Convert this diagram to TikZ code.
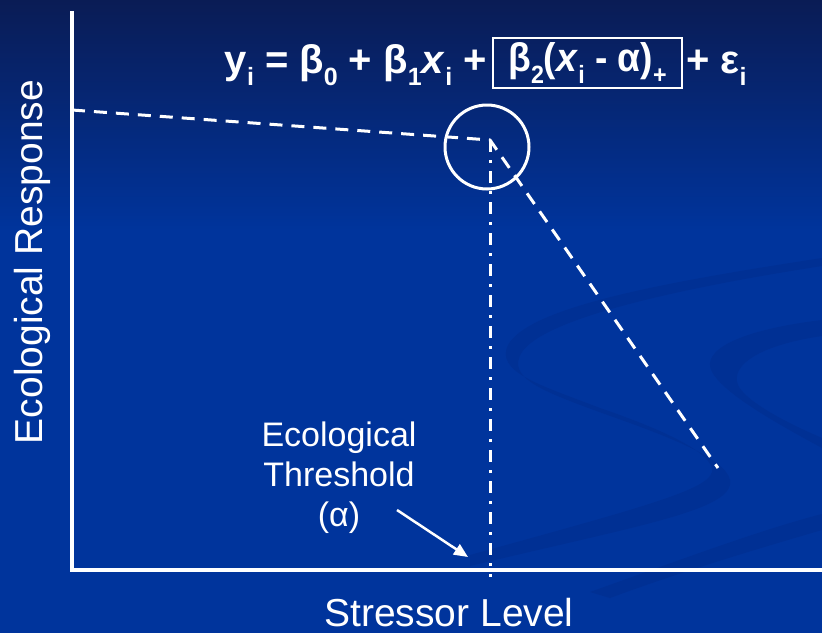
\documentclass[tikz,border=0pt]{standalone}
\usepackage{fontspec}
\setmainfont{Liberation Sans}
\usepackage{tikz}
\usepackage{xcolor}
\usetikzlibrary{arrows.meta}
\definecolor{slideblue}{HTML}{00349C}
\definecolor{slidenavy}{HTML}{0A1C55}
\definecolor{swoosh}{HTML}{002A88}
\newcommand{\lowidx}[1]{\raisebox{-0.3em}{\fontsize{25}{25}\selectfont #1}}
\tikzstyle{axis} = [white, line width=3.5pt]
\tikzstyle{response} = [white, line width=3pt, dash pattern=on 13pt off 9pt]
\tikzstyle{threshold} = [white, line width=3pt, dash pattern=on 12pt off 8pt on 3pt off 8pt]
\tikzstyle{arrow} = [white, line width=2.5pt, -{Triangle[length=14pt,width=12pt]}]
\tikzstyle{axistext} = [text=white, inner sep=0pt, font=\fontsize{39}{39}\selectfont]
\tikzstyle{notetext} = [text=white, inner sep=0pt, align=center, font=\fontsize{34}{40}\selectfont]
\tikzstyle{eqtext} = [text=white, inner sep=0pt, font=\bfseries\fontsize{40}{40}\selectfont]
\tikzstyle{eqboxed} = [eqtext, draw=white, line width=2.5pt, minimum width=189pt, minimum height=50pt]
\tikzstyle{band} = [swoosh, opacity=0.4]

\begin{document}
\begin{tikzpicture}[x=1pt, y=-1pt]
	\useasboundingbox (0,0) rectangle (822,633);
	\fill[slideblue] (0,0) rectangle (822,633);
	\shade[top color=slidenavy, bottom color=slideblue] (0,0) rectangle (822,230);
	
	\fill[band] (822,258) .. controls (680,280) and (530,305) .. (508,345) .. controls (495,372) and (540,385) .. (600,408) .. controls (670,432) and (715,455) .. (712,472) .. controls (708,490) and (640,508) .. (470,555)
		-- (470,566) .. controls (640,525) and (735,510) .. (730,480) .. controls (725,458) and (670,437) .. (602,413) .. controls (545,392) and (505,378) .. (522,352) .. controls (545,318) and (680,288) .. (822,266) -- cycle;
	\fill[band] (822,320) .. controls (740,330) and (700,350) .. (712,372) .. controls (725,395) and (780,425) .. (822,448)
		-- (822,438) .. controls (780,420) and (745,400) .. (738,385) .. controls (730,365) and (760,345) .. (822,336) -- cycle;
	\fill[band] (590,592) .. controls (680,560) and (760,530) .. (822,514) -- (822,530) .. controls (760,548) and (680,572) .. (610,598) -- cycle;
	
	\coordinate(origin) at (72,570);
	\coordinate(ytop) at (72,11);
	\coordinate(xend) at (822,570);
	\coordinate(r0) at (72,110);
	\coordinate(knee) at (490,140);
	\coordinate(r1) at (718,468);
	\coordinate(alpha) at (490,577);
	\coordinate(arrtail) at (397,510);
	\coordinate(arrtip) at (468,557);
	
	\node(eqleft) at (487,73) [eqtext, anchor=base east] {y\lowidx{i} = β\lowidx{0} + β\lowidx{1}\textit{x}\lowidx{i} +};
	\node(eqbox) at (587.5,63) [eqboxed] {\scalebox{0.93}[1]{β\lowidx{2}(\textit{x}\lowidx{i} - α)\lowidx{+}}};
	\node(eqright) at (686,73) [eqtext, anchor=base west] {+ ε\lowidx{i}};
	\node(yname) at (42,262) [axistext, anchor=base, rotate=90] {Ecological Response};
	\node(xname) at (449,626) [axistext, anchor=base] {Stressor Level};
	\node(thrname) at (339,478) [notetext] {Ecological\\Threshold\\(α)};
	\node(kneemark) at (487,147) [draw=white, line width=3pt, circle, minimum size=84pt, inner sep=0pt] {};
	
	\draw [axis] (ytop) -- (origin) -- (xend);
	\draw [response] (r0) -- (knee) -- (r1);
	\draw [threshold] (knee) -- (alpha);
	\draw [arrow] (arrtail) -- (arrtip);
\end{tikzpicture}
\end{document}
